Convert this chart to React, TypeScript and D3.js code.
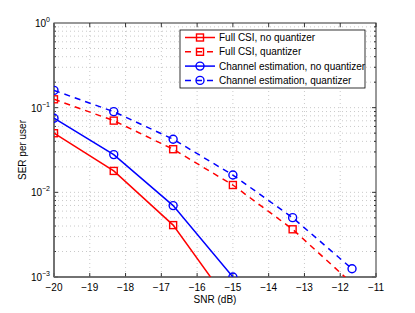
import { useEffect, useRef } from 'react';
import * as d3 from 'd3';

// SNR points (dB)
const snr = [-20, -18.33, -16.67, -15, -13.33, -11.67];

// SER per user for each curve (values below 1e-3 are clipped by the axes)
const fullCsiNoQuant = [0.0499, 0.0179, 0.0041, 0.00043];
const fullCsiQuant = [0.1256, 0.0703, 0.0323, 0.0122, 0.00366, 0.00084];
const chEstNoQuant = [0.075, 0.0279, 0.00697, 0.001];
const chEstQuant = [0.16, 0.0897, 0.0424, 0.016, 0.00502, 0.00125];

const seriesNames = [
  'Full CSI, no quantizer',
  'Full CSI, quantizer',
  'Channel estimation, no quantizer',
  'Channel estimation, quantizer',
];

const xTicks = [-20, -19, -18, -17, -16, -15, -14, -13, -12, -11];
const yExponents = [0, -1, -2, -3];

const FONT = '"Liberation Sans", Arial, Helvetica, sans-serif';

function SerChart() {
  const svgRef = useRef<SVGSVGElement | null>(null);

  useEffect(() => {
    const W = 415;
    const H = 313;
    const m = { left: 54, top: 23, right: 376, bottom: 277 };

    const svg = d3.select(svgRef.current).attr('width', W).attr('height', H);
    svg.selectAll('*').remove();

    const x = d3.scaleLinear().domain([-20, -11]).range([m.left, m.right]);
    const y = d3.scaleLog().domain([1e-3, 1]).range([m.bottom, m.top]);

    svg.append('rect').attr('width', W).attr('height', H).attr('fill', '#fff');

    svg
      .append('defs')
      .append('clipPath')
      .attr('id', 'plotclip')
      .append('rect')
      .attr('x', m.left)
      .attr('y', m.top)
      .attr('width', m.right - m.left)
      .attr('height', m.bottom - m.top);

    // grid
    const grid = svg.append('g').attr('stroke', '#bbb').attr('stroke-width', 0.8).attr('stroke-dasharray', '1,3');
    xTicks.slice(1, -1).forEach(t => {
      grid.append('line').attr('x1', x(t)).attr('x2', x(t)).attr('y1', m.top).attr('y2', m.bottom);
    });
    const minorVals: number[] = [];
    [-3, -2, -1].forEach(e => {
      for (let k = 1; k <= 9; k++) minorVals.push(k * Math.pow(10, e));
    });
    minorVals
      .filter(v => v > 1e-3 && v < 1)
      .forEach(v => {
        grid.append('line').attr('x1', m.left).attr('x2', m.right).attr('y1', y(v)).attr('y2', y(v));
      });

    // ticks (inward, on all sides)
    const ticks = svg.append('g').attr('stroke', '#000').attr('stroke-width', 0.8);
    xTicks.forEach(t => {
      ticks.append('line').attr('x1', x(t)).attr('x2', x(t)).attr('y1', m.bottom).attr('y2', m.bottom - 4);
      ticks.append('line').attr('x1', x(t)).attr('x2', x(t)).attr('y1', m.top).attr('y2', m.top + 4);
    });
    minorVals.forEach(v => {
      const len = Number.isInteger(Math.log10(v)) ? 4 : 2;
      ticks.append('line').attr('x1', m.left).attr('x2', m.left + len).attr('y1', y(v)).attr('y2', y(v));
      ticks.append('line').attr('x1', m.right).attr('x2', m.right - len).attr('y1', y(v)).attr('y2', y(v));
    });

    // frame
    svg
      .append('rect')
      .attr('x', m.left)
      .attr('y', m.top)
      .attr('width', m.right - m.left)
      .attr('height', m.bottom - m.top)
      .attr('fill', 'none')
      .attr('stroke', '#333')
      .attr('stroke-width', 1);
    svg
      .append('line')
      .attr('x1', m.left)
      .attr('x2', m.left)
      .attr('y1', m.top)
      .attr('y2', m.bottom)
      .attr('stroke', '#666')
      .attr('stroke-width', 1.5);
    svg
      .append('line')
      .attr('x1', m.left)
      .attr('x2', m.right)
      .attr('y1', m.bottom)
      .attr('y2', m.bottom)
      .attr('stroke', '#666')
      .attr('stroke-width', 1.5);

    // tick labels
    const labels = svg.append('g').attr('font-family', FONT).attr('font-size', 10).attr('fill', '#000');
    xTicks.forEach(t => {
      labels
        .append('text')
        .attr('x', x(t))
        .attr('y', 291)
        .attr('text-anchor', 'middle')
        .text(`${t < 0 ? '\u2212' : ''}${Math.abs(t)}`);
    });
    yExponents.forEach(e => {
      const tx = labels
        .append('text')
        .attr('x', m.left - 4)
        .attr('y', y(Math.pow(10, e)) + 4)
        .attr('text-anchor', 'end');
      tx.append('tspan').text('10');
      tx.append('tspan')
        .attr('dy', -5)
        .attr('font-size', 7)
        .text(e < 0 ? `\u2212${-e}` : `${e}`);
    });

    svg
      .append('text')
      .attr('x', 215)
      .attr('y', 303)
      .attr('text-anchor', 'middle')
      .attr('font-family', FONT)
      .attr('font-size', 10)
      .text('SNR (dB)');
    svg
      .append('text')
      .attr('transform', `translate(26,150) rotate(-90)`)
      .attr('text-anchor', 'middle')
      .attr('font-family', FONT)
      .attr('font-size', 10)
      .text('SER per user');

    // data
    const series = [
      { vals: fullCsiNoQuant, color: '#ff0000', dash: null, marker: 'square' },
      { vals: fullCsiQuant, color: '#ff0000', dash: '6,5', marker: 'square' },
      { vals: chEstNoQuant, color: '#0000ff', dash: null, marker: 'circle' },
      { vals: chEstQuant, color: '#0000ff', dash: '6,5', marker: 'circle' },
    ];

    const line = d3
      .line<number>()
      .x((_, i) => x(snr[i]))
      .y(d => y(d));

    const plot = svg.append('g').attr('clip-path', 'url(#plotclip)');

    const drawMarker = (g: any, type: string, cx: number, cy: number, color: string) => {
      if (type === 'square') {
        g.append('rect')
          .attr('x', cx - 3.5)
          .attr('y', cy - 3.5)
          .attr('width', 7)
          .attr('height', 7)
          .attr('fill', 'none')
          .attr('stroke', color)
          .attr('stroke-width', 1.4);
      } else {
        g.append('circle')
          .attr('cx', cx)
          .attr('cy', cy)
          .attr('r', 4)
          .attr('fill', 'none')
          .attr('stroke', color)
          .attr('stroke-width', 1.4);
      }
    };

    series.forEach(s => {
      plot
        .append('path')
        .attr('d', line(s.vals))
        .attr('fill', 'none')
        .attr('stroke', s.color)
        .attr('stroke-width', 1.5)
        .attr('stroke-dasharray', s.dash);
      s.vals.forEach((v, i) => {
        if (v >= 1e-3) drawMarker(plot, s.marker, x(snr[i]), y(v), s.color);
      });
    });

    // legend
    const lg = svg.append('g');
    lg.append('rect')
      .attr('x', 180)
      .attr('y', 30)
      .attr('width', 185)
      .attr('height', 58)
      .attr('fill', '#fff')
      .attr('stroke', '#000')
      .attr('stroke-width', 0.8);
    series.forEach((s, i) => {
      const ly = 37.5 + i * 14.3;
      lg.append('line')
        .attr('x1', 185)
        .attr('x2', 215)
        .attr('y1', ly)
        .attr('y2', ly)
        .attr('stroke', s.color)
        .attr('stroke-width', 1.5)
        .attr('stroke-dasharray', s.dash ? '6,5' : null)
        .attr('stroke-dashoffset', s.dash ? 0 : null);
      drawMarker(lg, s.marker, 200, ly, s.color);
      lg.append('text')
        .attr('x', 219)
        .attr('y', ly + 3.5)
        .attr('font-family', FONT)
        .attr('font-size', 10)
        .text(seriesNames[i]);
    });
  }, []);

  return <svg ref={svgRef} style={{ position: 'absolute', left: 0, top: 0 }} />;
}

export default function App() {
  return <SerChart />;
}
